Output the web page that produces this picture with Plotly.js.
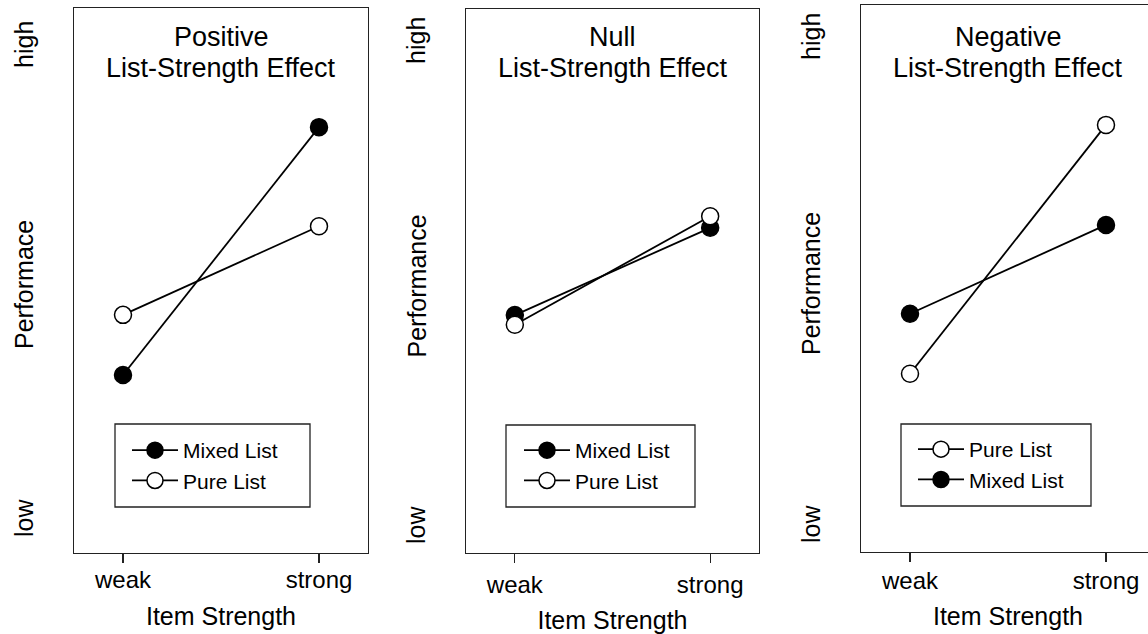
<!DOCTYPE html>
<html>
<head>
<meta charset="utf-8">
<script src="https://cdn.plot.ly/plotly-3.0.1.min.js"></script>
<style>
html, body { margin: 0; padding: 0; overflow: hidden; background: #ffffff; }
#chart { width: 1160px; height: 634px; }
</style>
</head>
<body>
<div id="chart"></div>
<script>
// ---------- data ----------
const strengthLabels = ['weak', 'strong'];
const strengthPos = [1, 2];
const perfTickVals = [0, 1];
const perfTickText = ['low', 'high'];
const panelTitleTop = ['Positive', 'Null', 'Negative'];
const panelTitleBottom = ['List-Strength Effect', 'List-Strength Effect', 'List-Strength Effect'];
const yTitles = ['Performace', 'Performance', 'Performance'];
const xTitle = 'Item Strength';
const mixedName = 'Mixed List';
const pureName = 'Pure List';
// performance (0 = low, 1 = high)
const positiveMixed = [0.310, 0.833];
const positivePure  = [0.437, 0.624];
const nullMixed     = [0.441, 0.621];
const nullPure      = [0.421, 0.645];
const negativePure  = [0.316, 0.826];
const negativeMixed = [0.439, 0.621];

// ---------- geometry ----------
const W = 1160, H = 634;
const panels = [
  {x0: 74,  x1: 368,  y0: 8, y1: 553, yr: [-0.0654, 1.0844], lblOff: -4, ttlOff: 15, leg: {x: 127, y: 430, iw: 46}, box: [115, 424, 310, 507]},
  {x0: 466, x1: 759,  y0: 9, y1: 553, yr: [-0.0495, 1.0722], lblOff: 1,  ttlOff: 14, leg: {x: 519, y: 430, iw: 46}, box: [506, 425, 695, 507]},
  {x0: 861, x1: 1155, y0: 5, y1: 552, yr: [-0.0492, 1.0717], lblOff: -2, ttlOff: 14, leg: {x: 913, y: 429, iw: 46}, box: [901, 424, 1091, 506]}
];

const FONT = 'Liberation Sans, Arial, Helvetica, sans-serif';
const lineStyle = {color: '#000000', width: 1.8};
const filledMarker = {symbol: 'circle', size: 17, color: '#000000', line: {color: '#000000', width: 1.5}};
const openMarker = {symbol: 'circle', size: 17, color: '#ffffff', line: {color: '#000000', width: 1.5}};

function tr(name, yv, filled, i) {
  const sfx = i === 0 ? '' : String(i + 1);
  return {
    type: 'scatter', mode: 'lines+markers', name: name,
    x: strengthPos, y: yv,
    xaxis: 'x' + sfx, yaxis: 'y' + sfx,
    legend: 'legend' + sfx,
    line: lineStyle, marker: filled ? filledMarker : openMarker,
    hoverinfo: 'skip'
  };
}

const data = [
  tr(mixedName, positiveMixed, true, 0),
  tr(pureName, positivePure, false, 0),
  tr(mixedName, nullMixed, true, 1),
  tr(pureName, nullPure, false, 1),
  tr(pureName, negativePure, false, 2),
  tr(mixedName, negativeMixed, true, 2)
];

const layout = {
  width: W, height: H,
  margin: {l: 0, r: 0, t: 0, b: 0},
  paper_bgcolor: '#ffffff', plot_bgcolor: '#ffffff',
  font: {family: FONT, color: '#000000', size: 24},
  showlegend: true,
  annotations: [],
  shapes: []
};

panels.forEach((p, i) => {
  const sfx = i === 0 ? '' : String(i + 1);
  layout['xaxis' + sfx] = {
    domain: [p.x0 / W, p.x1 / W],
    anchor: 'y' + sfx,
    range: [0.75, 2.25],
    tickvals: strengthPos, ticktext: strengthLabels,
    ticks: 'outside', ticklen: 9, tickwidth: 1.3, tickcolor: '#222222',
    tickfont: {size: 24, family: FONT},
    ticklabelstandoff: p.lblOff,
    showline: true, mirror: true, linecolor: '#222222', linewidth: 1.3,
    showgrid: false, zeroline: false, fixedrange: true,
    title: {text: xTitle, font: {size: 25, family: FONT}, standoff: p.ttlOff}
  };
  layout['yaxis' + sfx] = {
    domain: [1 - p.y1 / H, 1 - p.y0 / H],
    anchor: 'x' + sfx,
    range: p.yr,
    tickvals: perfTickVals, ticktext: perfTickText,
    tickangle: -90, ticks: '',
    tickfont: {size: 25, family: FONT},
    ticklabelstandoff: 30,
    showline: true, mirror: true, linecolor: '#222222', linewidth: 1.3,
    showgrid: false, zeroline: false, fixedrange: true
  };
  layout['legend' + sfx] = {
    x: p.leg.x / W, y: 1 - p.leg.y / H,
    xanchor: 'left', yanchor: 'top',
    bgcolor: 'rgba(0,0,0,0)', borderwidth: 0,
    font: {size: 21, family: FONT, color: '#000000'},
    itemwidth: p.leg.iw, tracegroupgap: 0, traceorder: 'normal'
  };
  layout.shapes.push({
    type: 'rect', xref: 'paper', yref: 'paper',
    x0: p.box[0] / W, x1: p.box[2] / W,
    y0: 1 - p.box[1] / H, y1: 1 - p.box[3] / H,
    line: {color: '#222222', width: 1.3}, fillcolor: 'rgba(0,0,0,0)', layer: 'below'
  });
  const cx = (p.x0 + p.x1) / 2 / W;
  layout.annotations.push({
    text: panelTitleTop[i], xref: 'paper', yref: 'paper',
    x: cx, y: 1 - 37 / H, xanchor: 'center', yanchor: 'middle',
    showarrow: false, borderpad: 0, font: {size: 27, family: FONT, color: '#000000'}
  });
  layout.annotations.push({
    text: panelTitleBottom[i], xref: 'paper', yref: 'paper',
    x: cx, y: 1 - 68 / H, xanchor: 'center', yanchor: 'middle',
    showarrow: false, borderpad: 0, font: {size: 27, family: FONT, color: '#000000'}
  });
  layout.annotations.push({
    text: yTitles[i], xref: 'x' + sfx + ' domain', yref: 'y' + sfx,
    x: -50 / (p.x1 - p.x0), y: 0.5, xanchor: 'center', yanchor: 'middle',
    textangle: -90, showarrow: false,
    font: {size: 25, family: FONT, color: '#000000'}
  });
});

Plotly.newPlot('chart', data, layout, {displayModeBar: false, staticPlot: true});
</script>
</body>
</html>
